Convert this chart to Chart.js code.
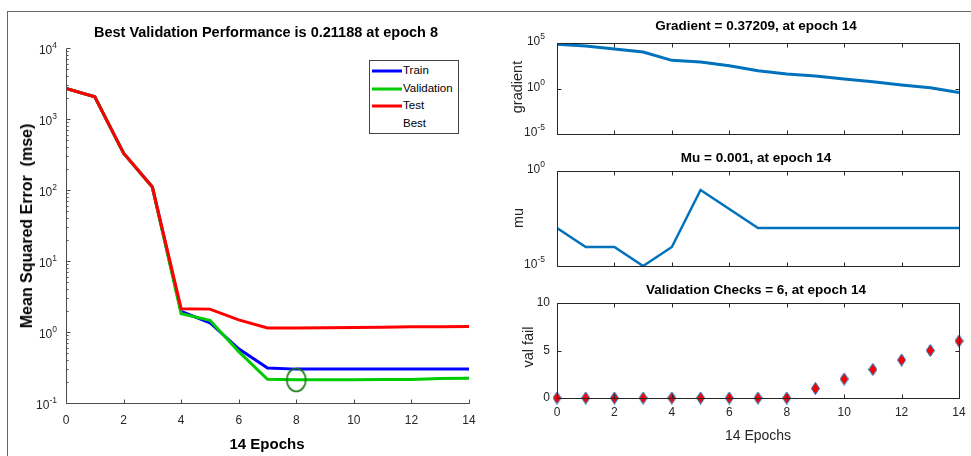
<!DOCTYPE html>
<html>
<head>
<meta charset="utf-8">
<script src="https://cdn.jsdelivr.net/npm/chart.js@4.4.1/dist/chart.umd.min.js"></script>
<style>
  body { margin: 0; background: #fff; width: 971px; height: 456px; overflow: hidden; position: relative;
         font-family: 'Liberation Sans', Arial, Helvetica, sans-serif; color: #000; }
  canvas { position: absolute; }
  .frame { position: absolute; left: 7px; top: 11px; width: 990px; height: 470px;
           border-left: 1px solid #666; border-top: 1px solid #666; }
  .lbl { position: absolute; white-space: pre; transform: translate(-50%, -50%); line-height: 1; }
  .rot { transform: translate(-50%, -50%) rotate(-90deg); }
  .b { font-weight: bold; }
  .legend { position: absolute; left: 369px; top: 60px; width: 88px; height: 72px; border: 1px solid #444;
            background: #fff; font-size: 11.5px; }
  .legend div { position: absolute; left: 33px; line-height: 1; transform: translateY(-50%); }
  .legend span { position: absolute; left: 2px; width: 30px; height: 3px; transform: translateY(-50%); }
</style>
</head>
<body>
<div class="frame"></div>

<canvas id="perfChart"></canvas>
<canvas id="gradChart"></canvas>
<canvas id="muChart"></canvas>
<canvas id="valChart"></canvas>

<div class="lbl b" style="left:266px;top:32px;font-size:14.5px">Best Validation Performance is 0.21188 at epoch 8</div>
<div class="lbl b" style="left:267px;top:443px;font-size:15px">14 Epochs</div>
<div class="lbl b rot" style="left:27px;top:226px;font-size:16px">Mean Squared Error  (mse)</div>

<div class="legend">
  <span style="top:10px;background:#0000ff"></span><div style="top:10px">Train</div>
  <span style="top:28px;background:#00cc00"></span><div style="top:28px">Validation</div>
  <span style="top:45px;background:#ff0000"></span><div style="top:45px">Test</div>
  <div style="top:63px">Best</div>
</div>

<div class="lbl b" style="left:756px;top:26px;font-size:13.5px">Gradient = 0.37209, at epoch 14</div>
<div class="lbl b" style="left:756px;top:158px;font-size:13.5px">Mu = 0.001, at epoch 14</div>
<div class="lbl b" style="left:756px;top:290px;font-size:13.5px">Validation Checks = 6, at epoch 14</div>
<div class="lbl rot" style="left:517px;top:87px;font-size:14.5px;color:#262626">gradient</div>
<div class="lbl rot" style="left:518px;top:218px;font-size:14.5px;color:#262626">mu</div>
<div class="lbl rot" style="left:528px;top:347px;font-size:14.5px;color:#262626">val fail</div>
<div class="lbl" style="left:758px;top:435px;font-size:14px;color:#262626">14 Epochs</div>

<script>
const FONT = "'Liberation Sans', Arial, Helvetica, sans-serif";
const MBLUE = '#0072BD';

// data
const epochs = [0, 1, 2, 3, 4, 5, 6, 7, 8, 9, 10, 11, 12, 13, 14];
const trainPerf = [2700, 2050, 330, 110, 1.95, 1.35, 0.58, 0.31, 0.30, 0.30, 0.30, 0.30, 0.30, 0.30, 0.30];
const valPerf   = [2700, 2050, 330, 110, 1.81, 1.46, 0.53, 0.216, 0.21188, 0.212, 0.213, 0.214, 0.215, 0.222, 0.223];
const testPerf  = [2700, 2050, 330, 110, 2.13, 2.10, 1.48, 1.14, 1.14, 1.15, 1.16, 1.17, 1.19, 1.19, 1.20];
const bestEpoch = [8];
const bestPerf  = [0.21188];
const gradient  = [71000, 47000, 22000, 10000, 1250, 820, 324, 91, 39, 24, 11, 5.6, 2.4, 1.2, 0.37209];
const mu        = [0.001, 0.0001, 0.0001, 0.00001, 0.0001, 0.1, 0.01, 0.001, 0.001, 0.001, 0.001, 0.001, 0.001, 0.001, 0.001];
const valFail   = [0, 0, 0, 0, 0, 0, 0, 0, 0, 1, 2, 3, 4, 5, 6];

// ticks
const epochTicks = [0, 2, 4, 6, 8, 10, 12, 14];
const mseTicks   = [0.1, 1, 10, 100, 1000, 10000];
const gradTicks  = [1e-5, 1, 1e5];
const muTicks    = [1e-5, 1];
const valTicks   = [0, 5, 10];

const mseMinor = [];
mseTicks.slice(0, -1).forEach(d => { for (let k = 2; k < 10; k++) mseMinor.push(d * k); });

function pts(ys) { return epochs.map((e, i) => ({ x: e, y: ys[i] })); }

// marker images
function diamondImg() {
  const c = document.createElement('canvas');
  c.width = 9; c.height = 13;
  const g = c.getContext('2d');
  g.beginPath();
  g.moveTo(4.5, 0.5); g.lineTo(8.5, 6.5); g.lineTo(4.5, 12.5); g.lineTo(0.5, 6.5); g.closePath();
  g.fillStyle = '#ff0000'; g.fill();
  g.strokeStyle = MBLUE; g.lineWidth = 1; g.stroke();
  return c;
}
function ringImg() {
  const c = document.createElement('canvas');
  c.width = 22; c.height = 26;
  const g = c.getContext('2d');
  g.beginPath();
  g.ellipse(11, 13, 9.5, 11.5, 0, 0, Math.PI * 2);
  g.strokeStyle = '#117a11'; g.lineWidth = 1.6; g.stroke();
  return c;
}

// matlab-like axes: box, inward ticks, 10^n labels
const frameAxes = {
  id: 'frameAxes',
  afterDatasetsDraw(chart, args, o) {
    const { ctx, chartArea: a } = chart;
    const xs = chart.scales.x, ys = chart.scales.y;
    const L = Math.round(a.left) + 0.5, R = Math.round(a.right) + 0.5;
    const T = Math.round(a.top) + 0.5, B = Math.round(a.bottom) + 0.5;
    ctx.save();
    ctx.strokeStyle = o.color;
    ctx.lineWidth = 1;
    ctx.beginPath();
    ctx.moveTo(L, T); ctx.lineTo(L, B); ctx.lineTo(R, B);
    if (o.box) { ctx.lineTo(R, T); ctx.lineTo(L, T); }
    (o.xTicks || []).forEach(v => {
      const p = Math.round(xs.getPixelForValue(v)) + 0.5;
      ctx.moveTo(p, B); ctx.lineTo(p, B - 4);
      if (o.box) { ctx.moveTo(p, T); ctx.lineTo(p, T + 4); }
    });
    (o.yTicks || []).forEach(v => {
      const p = Math.round(ys.getPixelForValue(v)) + 0.5;
      ctx.moveTo(L, p); ctx.lineTo(L + 4, p);
      if (o.box) { ctx.moveTo(R, p); ctx.lineTo(R - 4, p); }
    });
    (o.yMinor || []).forEach(v => {
      const p = Math.round(ys.getPixelForValue(v)) + 0.5;
      ctx.moveTo(L, p); ctx.lineTo(L + 2, p);
    });
    ctx.stroke();

    if (o.logLabels) {
      ctx.fillStyle = '#262626';
      ctx.textBaseline = 'middle';
      ctx.textAlign = 'left';
      o.yTicks.forEach(v => {
        const p = ys.getPixelForValue(v);
        const e = String(Math.round(Math.log10(v)));
        ctx.font = '8.5px ' + FONT;
        const ew = ctx.measureText(e).width;
        ctx.font = '12px ' + FONT;
        const bw = ctx.measureText('10').width;
        const x0 = a.left - o.gap - ew - bw;
        ctx.fillText('10', x0, p + o.dy);
        ctx.font = '8.5px ' + FONT;
        ctx.fillText(e, x0 + bw, p + o.dy - 5);
      });
    }
    ctx.restore();
  }
};

// canvas at box, plot area at area; left/bottom space is taken by the scales
function place(id, box, area) {
  const c = document.getElementById(id);
  c.width = box.w; c.height = box.h;
  c.style.left = box.x + 'px';
  c.style.top = box.y + 'px';
  return {
    canvas: c,
    yw: area.l - box.x,
    xh: box.y + box.h - area.b,
    padding: { left: 0, bottom: 0, top: area.t - box.y, right: box.x + box.w - area.r }
  };
}

function xAxis(pl, showLabels, pad) {
  return {
    type: 'linear', min: 0, max: 14,
    grid: { display: false, drawTicks: false },
    border: { display: false },
    ticks: { display: showLabels, stepSize: 2, padding: pad, maxRotation: 0, autoSkip: false,
             color: '#262626', font: { family: FONT, size: 12 } },
    afterFit: s => { s.height = pl.xh; }
  };
}
function logAxis(pl, min, max) {
  return {
    type: 'logarithmic', min: min, max: max,
    grid: { display: false, drawTicks: false },
    border: { display: false },
    ticks: { display: false },
    afterFit: s => { s.width = pl.yw; }
  };
}

function baseOpts(pl, axes, scales) {
  return {
    responsive: false, animation: false, devicePixelRatio: 1,
    layout: { padding: pl.padding },
    plugins: { legend: { display: false }, tooltip: { enabled: false }, frameAxes: axes },
    scales: scales
  };
}

// left: performance
const p = place('perfChart', { x: 8, y: 12, w: 495, h: 444 }, { l: 66, t: 48, r: 469, b: 403 });
new Chart(p.canvas, {
  type: 'line',
  data: {
    datasets: [
      { label: 'Train', data: pts(trainPerf), borderColor: '#0000ff', borderWidth: 3, pointRadius: 0, order: 3 },
      { label: 'Validation', data: pts(valPerf), borderColor: '#00cc00', borderWidth: 3, pointRadius: 0, order: 2 },
      { label: 'Test', data: pts(testPerf), borderColor: '#ff0000', borderWidth: 3, pointRadius: 0, order: 1 },
      { label: 'Best', data: bestEpoch.map((e, i) => ({ x: e, y: bestPerf[i] })), showLine: false,
        pointStyle: ringImg(), pointRadius: 10, clip: false, order: 0 }
    ]
  },
  options: baseOpts(p,
    { color: '#4d4d4d', box: false, xTicks: epochTicks, yTicks: mseTicks, yMinor: mseMinor, logLabels: true, gap: 9, dy: 3 },
    { x: xAxis(p, true, 10), y: logAxis(p, 0.1, 10000) }),
  plugins: [frameAxes]
});

// gradient
const pg = place('gradChart', { x: 490, y: 30, w: 481, h: 110 }, { l: 557, t: 43, r: 959, b: 134 });
new Chart(pg.canvas, {
  type: 'line',
  data: { datasets: [{ data: pts(gradient), borderColor: MBLUE, borderWidth: 3, pointRadius: 0 }] },
  options: baseOpts(pg,
    { color: '#262626', box: true, xTicks: epochTicks, yTicks: gradTicks, logLabels: true, gap: 12, dy: -1 },
    { x: xAxis(pg, false, 0), y: logAxis(pg, 1e-5, 1e5) }),
  plugins: [frameAxes]
});

// mu
const pm = place('muChart', { x: 490, y: 150, w: 481, h: 125 }, { l: 557, t: 171, r: 959, b: 266 });
new Chart(pm.canvas, {
  type: 'line',
  data: { datasets: [{ data: pts(mu), borderColor: MBLUE, borderWidth: 2.5, pointRadius: 0 }] },
  options: baseOpts(pm,
    { color: '#262626', box: true, xTicks: epochTicks, yTicks: muTicks, logLabels: true, gap: 12, dy: -1 },
    { x: xAxis(pm, false, 0), y: logAxis(pm, 1e-5, 1) }),
  plugins: [frameAxes]
});

// validation checks
const pv = place('valChart', { x: 490, y: 285, w: 500, h: 171 }, { l: 557, t: 303, r: 959, b: 398 });
new Chart(pv.canvas, {
  type: 'line',
  data: { datasets: [{ data: pts(valFail), showLine: false, pointStyle: diamondImg(), pointRadius: 6, clip: false }] },
  options: baseOpts(pv,
    { color: '#262626', box: true, xTicks: epochTicks, yTicks: valTicks, logLabels: false },
    {
      x: xAxis(pv, true, 7),
      y: {
        type: 'linear', min: 0, max: 10,
        grid: { display: false, drawTicks: false },
        border: { display: false },
        ticks: { stepSize: 5, padding: 7, color: '#262626', font: { family: FONT, size: 12 } },
        afterFit: s => { s.width = pv.yw; }
      }
    }),
  plugins: [frameAxes]
});
</script>
</body>
</html>
